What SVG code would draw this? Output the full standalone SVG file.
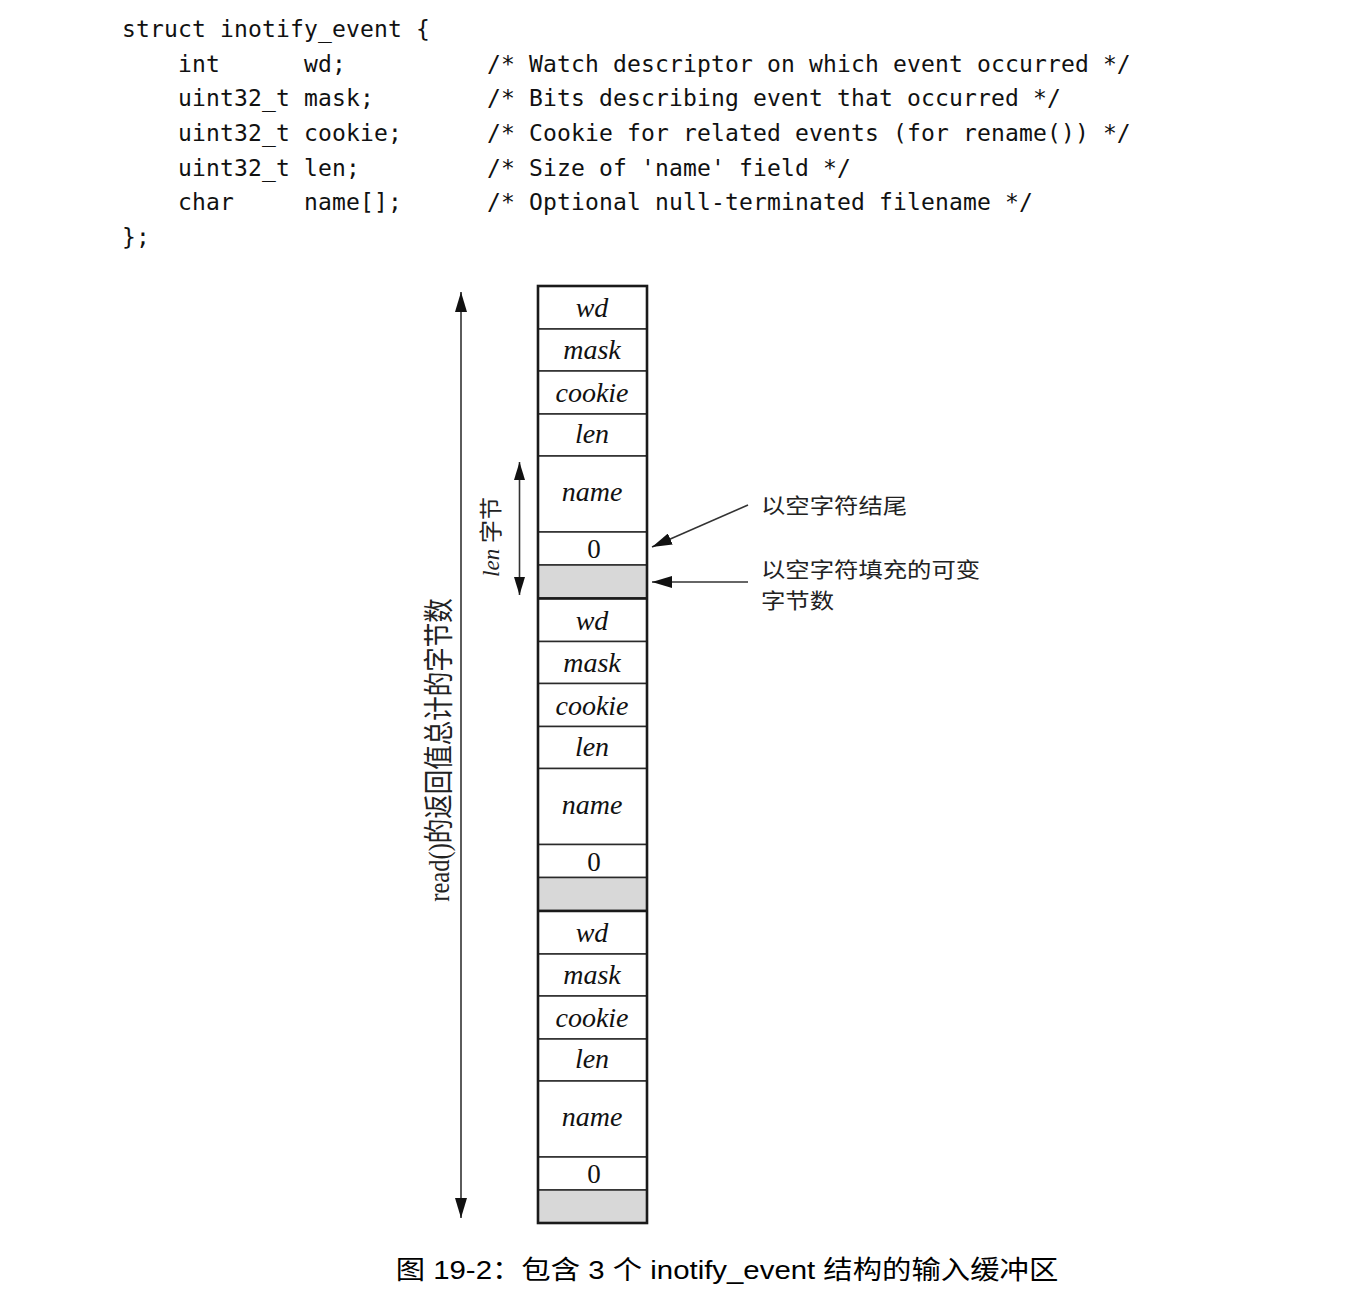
<svg xmlns="http://www.w3.org/2000/svg" width="1361" height="1301" viewBox="0 0 1361 1301">
<style>
.code{font-family:"DejaVu Sans Mono","Liberation Mono",monospace;font-size:23px;letter-spacing:0.15px;fill:#111}
.fld{font-family:"Liberation Serif","DejaVu Serif",serif;font-style:italic;font-size:28px;fill:#111;text-anchor:middle}
.zero{font-family:"Liberation Serif","DejaVu Serif",serif;font-size:27px;fill:#111;text-anchor:middle}
.cell{fill:#fff;stroke:#2a2a2a;stroke-width:1.5}
.pad{fill:#d8d8d8;stroke:#2a2a2a;stroke-width:1.5}
.sep{stroke:#1a1a1a;stroke-width:2.5}
.cjk{font-family:"Noto Sans CJK SC",sans-serif;font-size:21px;fill:#222}
.conn{stroke:#333;stroke-width:1.6;fill:none}
.cap{font-family:"Liberation Sans","Noto Sans CJK SC",sans-serif;font-size:26px;fill:#000;text-anchor:middle}
</style>
<defs>
<marker id="ah" viewBox="0 0 20 12" refX="20" refY="6" markerWidth="20" markerHeight="12" markerUnits="userSpaceOnUse" orient="auto-start-reverse">
<path d="M0,0 L20,6 L0,12 Z" fill="#111"/>
</marker>
<marker id="ahs" viewBox="0 0 18 11" refX="18" refY="5.5" markerWidth="18" markerHeight="11" markerUnits="userSpaceOnUse" orient="auto-start-reverse">
<path d="M0,0 L18,5.5 L0,11 Z" fill="#111"/>
</marker>
</defs>
<rect width="1361" height="1301" fill="#fff"/>

<g id="code">
<text class="code" x="122" y="37">struct inotify_event {</text>
<text class="code" x="178" y="71.7">int</text>
<text class="code" x="304" y="71.7">wd;</text>
<text class="code" x="487" y="71.7">/* Watch descriptor on which event occurred */</text>
<text class="code" x="178" y="106.3">uint32_t</text>
<text class="code" x="304" y="106.3">mask;</text>
<text class="code" x="487" y="106.3">/* Bits describing event that occurred */</text>
<text class="code" x="178" y="141">uint32_t</text>
<text class="code" x="304" y="141">cookie;</text>
<text class="code" x="487" y="141">/* Cookie for related events (for rename()) */</text>
<text class="code" x="178" y="175.7">uint32_t</text>
<text class="code" x="304" y="175.7">len;</text>
<text class="code" x="487" y="175.7">/* Size of 'name' field */</text>
<text class="code" x="178" y="210.3">char</text>
<text class="code" x="304" y="210.3">name[];</text>
<text class="code" x="487" y="210.3">/* Optional null-terminated filename */</text>
<text class="code" x="122" y="245">};</text>
</g>

<g id="event1">
<rect class="cell" x="538" y="286" width="109" height="43"/>
<rect class="cell" x="538" y="329" width="109" height="42"/>
<rect class="cell" x="538" y="371" width="109" height="43"/>
<rect class="cell" x="538" y="414" width="109" height="42"/>
<rect class="cell" x="538" y="456" width="109" height="76"/>
<rect class="cell" x="538" y="532" width="109" height="33"/>
<rect class="pad" x="538" y="565" width="109" height="33"/>
<text class="fld" x="592" y="317">wd</text>
<text class="fld" x="592" y="359">mask</text>
<text class="fld" x="592" y="402">cookie</text>
<text class="fld" x="592" y="443">len</text>
<text class="fld" x="592" y="501">name</text>
<text class="zero" x="594" y="558">0</text>
</g>

<g id="event2">
<rect class="cell" x="538" y="598.5" width="109" height="43"/>
<rect class="cell" x="538" y="641.5" width="109" height="42"/>
<rect class="cell" x="538" y="683.5" width="109" height="43"/>
<rect class="cell" x="538" y="726.5" width="109" height="42"/>
<rect class="cell" x="538" y="768.5" width="109" height="76"/>
<rect class="cell" x="538" y="844.5" width="109" height="33"/>
<rect class="pad" x="538" y="877.5" width="109" height="33"/>
<text class="fld" x="592" y="629.5">wd</text>
<text class="fld" x="592" y="671.5">mask</text>
<text class="fld" x="592" y="714.5">cookie</text>
<text class="fld" x="592" y="755.5">len</text>
<text class="fld" x="592" y="813.5">name</text>
<text class="zero" x="594" y="870.5">0</text>
</g>

<g id="event3">
<rect class="cell" x="538" y="911" width="109" height="43"/>
<rect class="cell" x="538" y="954" width="109" height="42"/>
<rect class="cell" x="538" y="996" width="109" height="43"/>
<rect class="cell" x="538" y="1039" width="109" height="42"/>
<rect class="cell" x="538" y="1081" width="109" height="76"/>
<rect class="cell" x="538" y="1157" width="109" height="33"/>
<rect class="pad" x="538" y="1190" width="109" height="33"/>
<text class="fld" x="592" y="942">wd</text>
<text class="fld" x="592" y="984">mask</text>
<text class="fld" x="592" y="1027">cookie</text>
<text class="fld" x="592" y="1068">len</text>
<text class="fld" x="592" y="1126">name</text>
<text class="zero" x="594" y="1183">0</text>
</g>

<g id="buffer-border">
<line class="sep" x1="538" y1="598.5" x2="647" y2="598.5"/>
<line class="sep" x1="538" y1="911" x2="647" y2="911"/>
<rect x="538" y="286" width="109" height="937" fill="none" stroke="#1a1a1a" stroke-width="2.6"/>
</g>

<g id="connectors">
<line class="conn" x1="461" y1="292" x2="461" y2="1218" marker-start="url(#ah)" marker-end="url(#ah)"/>
<line class="conn" x1="519.5" y1="462" x2="519.5" y2="595" marker-start="url(#ahs)" marker-end="url(#ahs)"/>
<line class="conn" x1="748" y1="505" x2="652" y2="547" marker-end="url(#ah)"/>
<line class="conn" x1="748" y1="582" x2="652" y2="582" marker-end="url(#ah)"/>
</g>

<g id="label-total">
<text transform="translate(449,750) scale(1.2,1) rotate(-90)" text-anchor="middle" font-size="24.5" fill="#222" font-family="&quot;Liberation Serif&quot;,&quot;Noto Sans CJK SC&quot;,serif">read()的返回值总计的字节数</text>
</g>

<g id="label-len">
<text transform="translate(499,537) rotate(-90)" text-anchor="middle" font-size="23" fill="#222" font-family="&quot;Liberation Serif&quot;,&quot;Noto Sans CJK SC&quot;,serif"><tspan font-style="italic">len</tspan> 字节</text>
</g>

<g id="label-null">
<text class="cjk" transform="translate(761,513) scale(1.16,1)">以空字符结尾</text>
</g>

<g id="label-pad">
<text class="cjk" transform="translate(761,577) scale(1.16,1)">以空字符填充的可变</text>
<text class="cjk" transform="translate(761,608) scale(1.16,1)">字节数</text>
</g>

<g id="caption">
<text class="cap" transform="translate(727,1279) scale(1.13,1)">图 19-2：包含 3 个 inotify_event 结构的输入缓冲区</text>
</g>
</svg>
